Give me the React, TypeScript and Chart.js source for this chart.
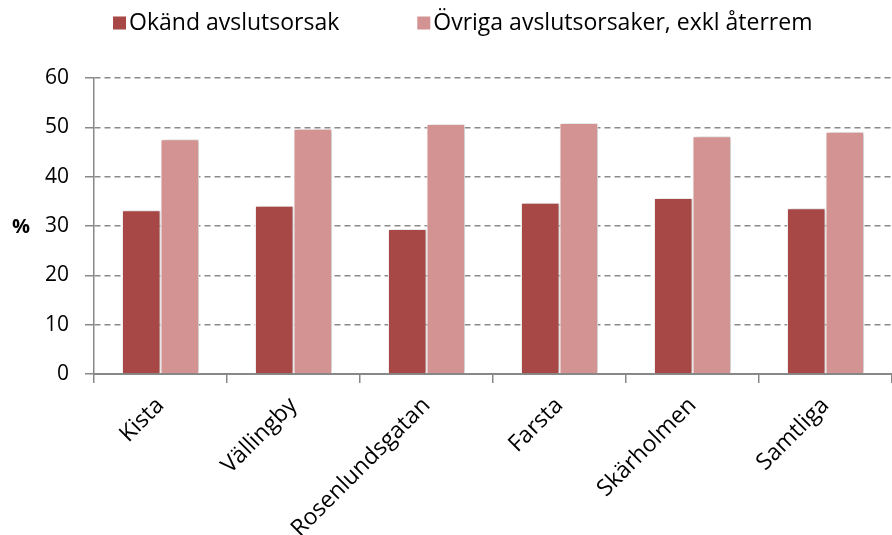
import React, { useEffect, useRef } from 'react';
import { Chart, registerables } from 'chart.js';

Chart.register(...registerables);

const categories = ['Kista', 'Vällingby', 'Rosenlundsgatan', 'Farsta', 'Skärholmen', 'Samtliga'];
const okandValues = [33.2, 34.1, 29.4, 34.7, 35.7, 33.6];
const ovrigaValues = [47.6, 49.7, 50.7, 50.9, 48.2, 49.1];
const seriesNames = ['Okänd avslutsorsak', 'Övriga avslutsorsaker, exkl återrem'];
const seriesColors = ['#A84846', '#D39392'];
const yTicks = [0, 10, 20, 30, 40, 50, 60];
const yAxisLabel = '%';

const FONT = '"Open Sans", Lato, sans-serif';
const FONT_SIZE = 21;
const LABEL_SIZE = 23;

const legendPlugin = {
  id: 'customLegend',
  afterDraw(chart: any) {
    const ctx = chart.ctx;
    ctx.save();
    ctx.font = `${LABEL_SIZE}px ${FONT}`;
    ctx.textBaseline = 'middle';
    ctx.textAlign = 'left';
    const y = 23;
    const box = 13;
    const gapBoxText = 3;
    const gapItems = 78;
    const widths = seriesNames.map((n) => ctx.measureText(n).width);
    let x = chart.width * 0.1267;
    seriesNames.forEach((name, i) => {
      ctx.fillStyle = seriesColors[i];
      ctx.fillRect(x, y - box / 2, box, box);
      x += box + gapBoxText;
      ctx.fillStyle = '#000';
      ctx.fillText(name, x, y);
      x += widths[i] + gapItems;
    });
    ctx.restore();
  },
};

const yTitlePlugin = {
  id: 'yTitle',
  afterDraw(chart: any) {
    const ctx = chart.ctx;
    const yScale = chart.scales.y;
    ctx.save();
    ctx.font = `bold ${FONT_SIZE - 1}px ${FONT}`;
    ctx.fillStyle = '#000';
    ctx.textAlign = 'center';
    ctx.textBaseline = 'middle';
    ctx.fillText(yAxisLabel, 21, yScale.getPixelForValue(30) + 1);
    ctx.restore();
  },
};

const shadowPlugin = {
  id: 'barShadow',
  beforeDatasetsDraw(chart: any) {
    const ctx = chart.ctx;
    ctx.save();
    ctx.shadowColor = 'rgba(0,0,0,0.22)';
    ctx.shadowBlur = 4;
    ctx.shadowOffsetX = 2;
    ctx.shadowOffsetY = 0;
  },
  afterDatasetsDraw(chart: any) {
    chart.ctx.restore();
  },
};

export default function App() {
  const canvasRef = useRef<HTMLCanvasElement | null>(null);

  useEffect(() => {
    if (!canvasRef.current) return;
    const chart = new Chart(canvasRef.current, {
      type: 'bar',
      data: {
        labels: categories,
        datasets: [
          {
            label: seriesNames[0],
            data: okandValues,
            backgroundColor: seriesColors[0],
            borderColor: '#ffffff',
            borderWidth: 1,
            categoryPercentage: 0.58,
            barPercentage: 1.0,
          },
          {
            label: seriesNames[1],
            data: ovrigaValues,
            backgroundColor: seriesColors[1],
            borderColor: '#ffffff',
            borderWidth: 1,
            categoryPercentage: 0.58,
            barPercentage: 1.0,
          },
        ],
      },
      options: {
        animation: false,
        responsive: true,
        maintainAspectRatio: false,
        layout: { padding: { top: 78, left: 0, right: 0, bottom: 0 } },
        plugins: {
          legend: { display: false },
          tooltip: { enabled: false },
        },
        scales: {
          x: {
            grid: {
              display: true,
              drawOnChartArea: false,
              drawTicks: true,
              tickLength: 9,
              offset: true,
              color: '#888888',
              lineWidth: 1.5,
            },
            border: { display: true, color: '#888888', width: 2 },
            ticks: {
              color: '#000',
              font: { family: FONT, size: LABEL_SIZE },
              minRotation: 45,
              maxRotation: 45,
              padding: 9,
              autoSkip: false,
            },
            afterFit(scale: any) {
              scale.height = 161;
            },
          },
          y: {
            min: 0,
            max: 60,
            ticks: {
              stepSize: 10,
              color: '#000',
              font: { family: FONT, size: FONT_SIZE },
              padding: 16,
              callback: (v: any) => (yTicks.includes(Number(v)) ? String(v) : ''),
            },
            grid: {
              color: (c: any) => (c.tick && c.tick.value === 0 ? 'rgba(0,0,0,0)' : '#8a8a8a'),
              lineWidth: 1.5,
              tickLength: 9,
              tickColor: '#888888',
              tickBorderDash: [],
            },
            border: { display: true, color: '#888888', width: 1.5, dash: [6, 4] },
            afterFit(scale: any) {
              scale.width = 94;
            },
          },
        },
      },
      plugins: [shadowPlugin, legendPlugin, yTitlePlugin],
    });
    return () => chart.destroy();
  }, []);

  return (
    <div style={{ position: 'fixed', left: 0, top: 0, width: 892, height: 535, background: '#fff' }}>
      <canvas ref={canvasRef} />
    </div>
  );
}
